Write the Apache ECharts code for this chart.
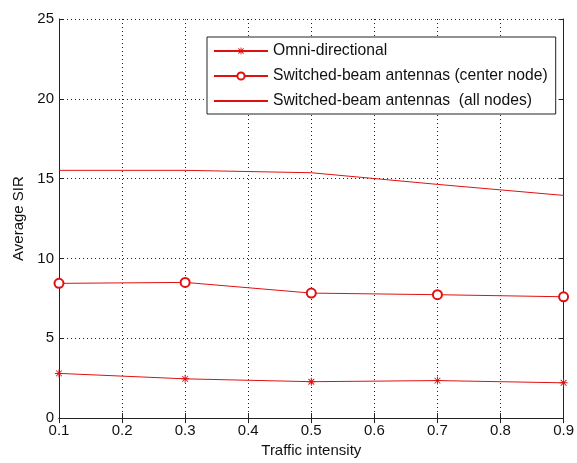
<!DOCTYPE html>
<html>
<head>
<meta charset="utf-8">
<script src="https://cdn.jsdelivr.net/npm/echarts@6/dist/echarts.min.js"></script>
<style>
  html, body { margin: 0; padding: 0; background: #fff; }
  #chart { width: 577px; height: 463px; }
</style>
</head>
<body>
<div id="chart"></div>
<script>
const trafficIntensity = [0.1, 0.3, 0.5, 0.7, 0.9]
const omniSir = [2.8, 2.46, 2.28, 2.35, 2.21]
const centerNodeSir = [8.44, 8.5, 7.83, 7.73, 7.6]
const allNodesSir = [15.52, 15.52, 15.37, 14.64, 13.95]

const seriesNames = [
  'Omni-directional',
  'Switched-beam antennas (center node)',
  'Switched-beam antennas  (all nodes)'
]

const red = '#e01010'
const font = '"Liberation Sans", Arial, sans-serif'
// asterisk marker like matlab '*'
const asterisk = 'path://M4.4 0L5.6 0L5.6 10L4.4 10Z M0 4.4L10 4.4L10 5.6L0 5.6Z M1 1.8L1.8 1L9 8.2L8.2 9Z M8.2 1L9 1.8L1.8 9L1 8.2Z'

const pairs = ys => trafficIntensity.map( ( x, i ) => [x, ys[i]] )

const gridLine = { show : true, lineStyle : { color : '#222', type : [1, 3], width : 1 }}
const axisLine = { show : true, lineStyle : { color : '#222', width : 1 }}
const tick = { show : true, inside : true, length : 5, lineStyle : { color : '#222' }}

const chart = echarts.init( document.getElementById( 'chart' ) )

chart.setOption( {
  animation : false,
  textStyle : { fontFamily : font },
  grid : { left : 59, right : 11, top : 19, bottom : 44 },
  legend : {
    left : 207,
    top : 37,
    orient : 'vertical',
    data : [
      { name : seriesNames[0] },
      { name : seriesNames[1] },
      { name : seriesNames[2], itemStyle : { opacity : 0 }}
    ],
    backgroundColor : '#fff',
    borderColor : '#222',
    borderWidth : 1,
    padding : [6, 8, 5, 6],
    itemWidth : 54,
    itemHeight : 9,
    itemGap : 9,
    textStyle : { fontFamily : font, fontSize : 15.7, color : '#111', lineHeight : 15 }
  },
  xAxis : [
    {
      type : 'value',
      min : 0.1,
      max : 0.9,
      interval : 0.1,
      name : 'Traffic intensity',
      nameLocation : 'middle',
      nameGap : 24,
      nameTextStyle : { fontFamily : font, fontSize : 15, color : '#111' },
      axisLine,
      axisTick : tick,
      splitLine : gridLine,
      axisLabel : {
        fontFamily : font,
        fontSize : 15,
        color : '#111',
        margin : 5,
        formatter : v => v.toFixed( 1 )
      }
    },
    {
      type : 'value',
      position : 'top',
      min : 0.1,
      max : 0.9,
      interval : 0.1,
      axisLine,
      axisTick : tick,
      splitLine : { show : false },
      axisLabel : { show : false }
    }
  ],
  yAxis : [
    {
      type : 'value',
      min : 0,
      max : 25,
      interval : 5,
      name : 'Average SIR',
      nameLocation : 'middle',
      nameGap : 31,
      nameTextStyle : { fontFamily : font, fontSize : 15, color : '#111' },
      axisLine,
      axisTick : tick,
      splitLine : gridLine,
      axisLabel : { fontFamily : font, fontSize : 15, color : '#111', margin : 5 }
    },
    {
      type : 'value',
      position : 'right',
      min : 0,
      max : 25,
      interval : 5,
      axisLine,
      axisTick : tick,
      splitLine : { show : false },
      axisLabel : { show : false }
    }
  ],
  series : [
    {
      name : seriesNames[0],
      type : 'line',
      data : pairs( omniSir ),
      symbol : asterisk,
      symbolSize : 8,
      lineStyle : { color : red, width : 1 },
      itemStyle : { color : red, borderWidth : 0 }
    },
    {
      name : seriesNames[1],
      type : 'line',
      data : pairs( centerNodeSir ),
      symbol : 'emptyCircle',
      symbolSize : 9,
      lineStyle : { color : red, width : 1 },
      itemStyle : { color : red, borderColor : red, borderWidth : 1 }
    },
    {
      name : seriesNames[2],
      type : 'line',
      data : pairs( allNodesSir ),
      symbol : 'none',
      lineStyle : { color : red, width : 1 },
      itemStyle : { color : red }
    }
  ]
} )
</script>
</body>
</html>
